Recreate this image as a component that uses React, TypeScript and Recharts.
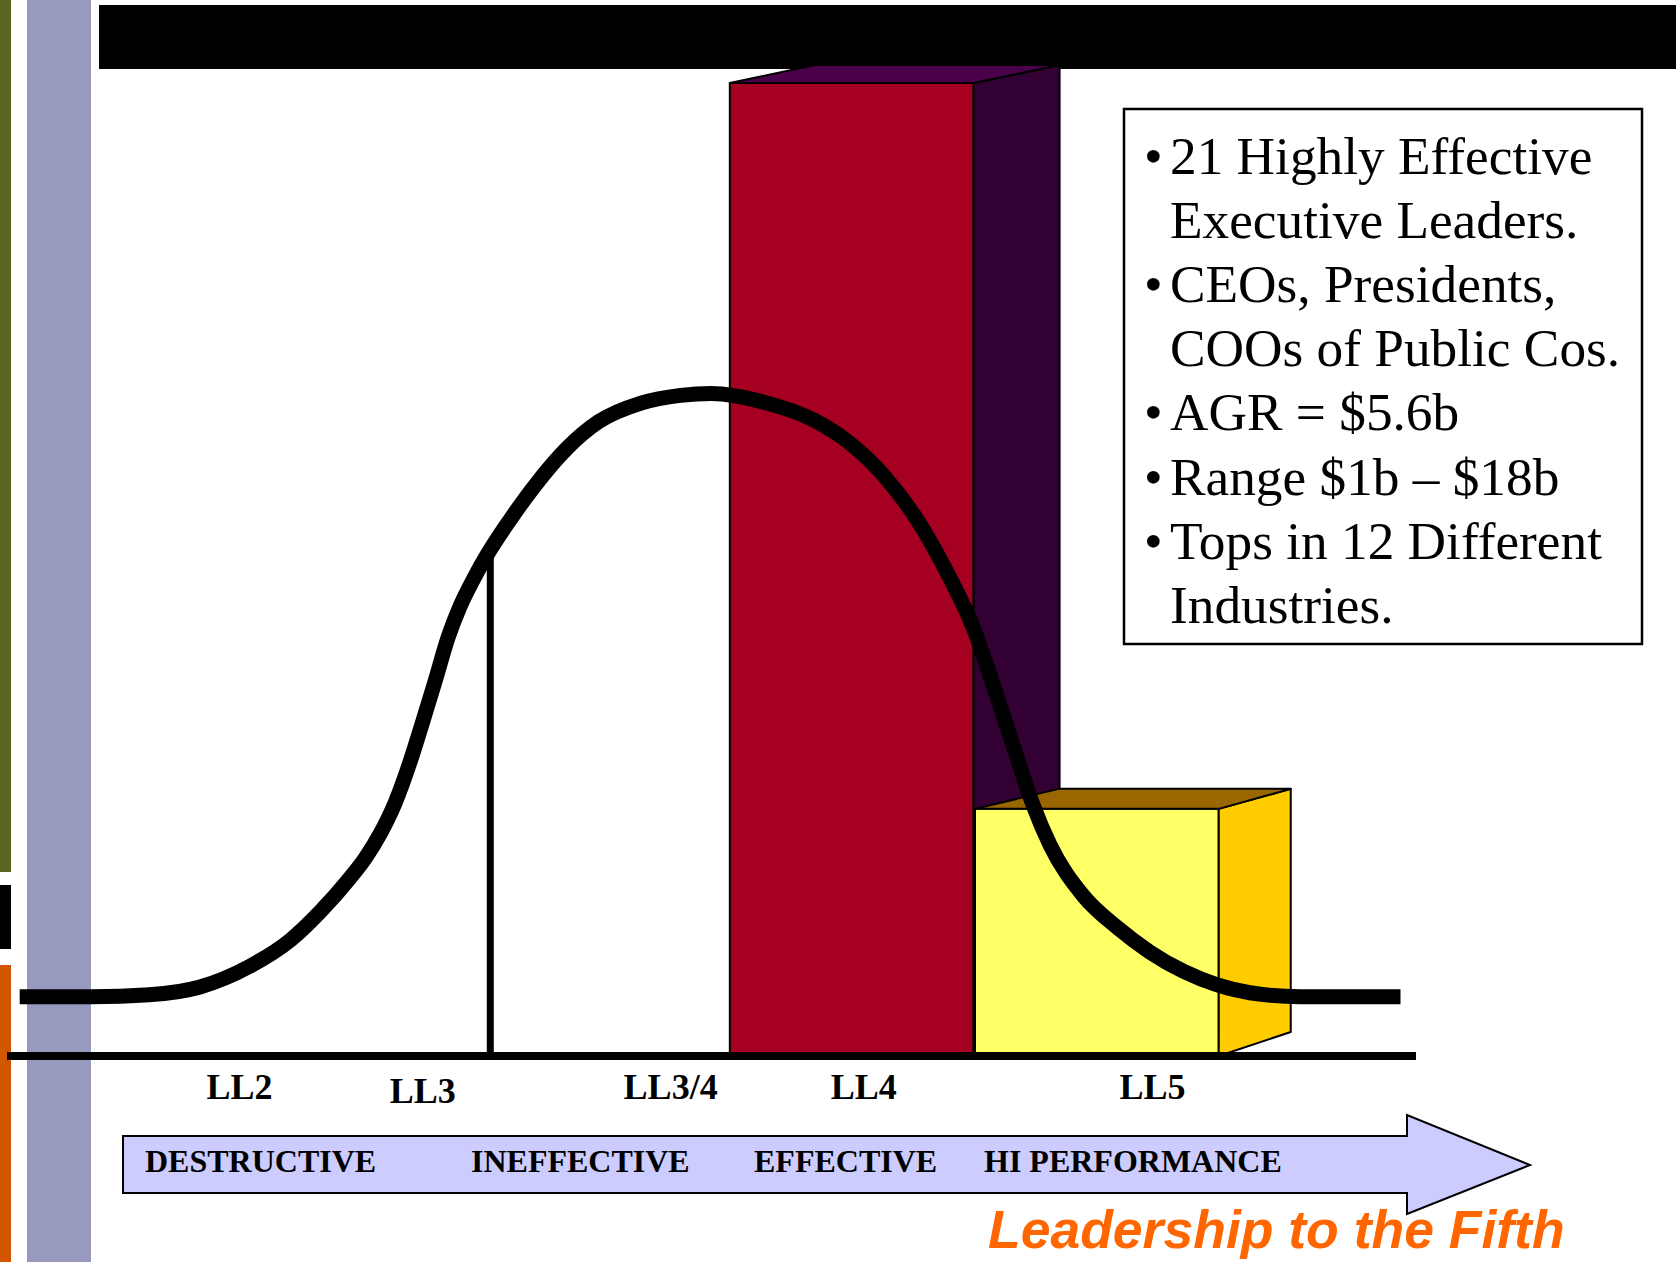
import React from "react";
import {
  ComposedChart,
  Line,
  ReferenceArea,
  ReferenceLine,
  XAxis,
  YAxis,
} from "recharts";

// bell curve of leadership levels, sampled along the level scale (0-100)
const CURVE_X = [
  0.9, 6.0, 10.1, 13.7, 17.2, 20.1, 22.21, 24.34, 25.41, 26.47, 27.54, 28.6,
  29.45, 30.38, 31.3, 32.15, 33.14, 34.07, 35.7, 37.4, 39.7, 42.0, 45.0, 47.8,
  50.0, 53.7, 57.2, 59.8, 62.2, 64.6, 66.93, 68.56, 69.98, 71.68, 72.82, 74.02,
  76.37, 78.8, 81.1, 83.5, 85.9, 88.2, 91.8, 98.9,
];
const CURVE_Y = [
  6.1, 6.1, 6.3, 7.1, 9.2, 11.9, 14.8, 18.3, 20.3, 22.8, 26.0, 30.2, 34.1,
  38.5, 43.0, 46.2, 49.1, 51.5, 55.1, 58.5, 62.4, 65.2, 67.1, 67.9, 68.1, 67.2,
  65.4, 63.0, 59.7, 55.1, 49.1, 44.1, 38.2, 30.7, 25.8, 21.7, 16.5, 13.2, 10.7,
  8.7, 7.3, 6.5, 6.1, 6.1,
];

// LL4 and LL5 columns
const BAR_FROM = [51.3, 68.7];
const BAR_TO = [68.6, 86.0];
const BAR_VALUES = [100, 25.4];

// LL3 cut-off marker
const DIVIDER_X = 34.3;
const DIVIDER_TOP = 52;

const TICK_POSITIONS = [16.5, 29.5, 47.1, 60.8, 81.3];
const TICK_LABELS = ["LL2", "LL3", "LL3/4", "LL4", "LL5"];

const STAGES = ["DESTRUCTIVE", "INEFFECTIVE", "EFFECTIVE", "HI PERFORMANCE"];

const INFO_ITEMS = [
  ["21 Highly Effective", "Executive Leaders."],
  ["CEOs, Presidents,", "COOs of Public Cos."],
  ["AGR = $5.6b"],
  ["Range $1b \u2013 $18b"],
  ["Tops in 12 Different", "Industries."],
];

// layout
const W = 1676;
const H = 1262;
const STAGE_LEFT = [145, 471, 754, 984];
const TICK_DY: Record<string, number> = { LL3: 4 };
const SERIF = "'Liberation Serif', 'Times New Roman', serif";
const SANS = "'Liberation Sans', Arial, sans-serif";

const curveData = CURVE_X.map((x, i) => ({ x, y: CURVE_Y[i] }));

type BoxStyle = {
  front: string;
  side: string;
  top: string;
  dxL: number;
  dxR: number;
  dyT: number;
  dyB: number;
};

const BOX_STYLES: BoxStyle[] = [
  { front: "#A50021", side: "#330033", top: "#4B004B", dxL: 85, dxR: 86, dyT: -18, dyB: -18 },
  { front: "#FFFF66", side: "#FFCC00", top: "#996600", dxL: 84, dxR: 72, dyT: -20, dyB: -24 },
];

// draws a ReferenceArea as an extruded box (front, right side, top)
const box3d = (s: BoxStyle) => (props: any) => {
  const { x, y, width, height } = props;
  const r = x + width;
  const b = y + height;
  const line = { stroke: "#000", strokeWidth: 2, strokeLinejoin: "round" as const };
  return (
    <g>
      <rect x={x} y={y} width={width} height={height} fill={s.front} {...line} />
      <polygon
        points={`${r},${y} ${r + s.dxR},${y + s.dyT} ${r + s.dxR},${b + s.dyB} ${r},${b}`}
        fill={s.side}
        {...line}
      />
      <polygon
        points={`${x},${y} ${x + s.dxL},${y + s.dyT} ${r + s.dxR},${y + s.dyT} ${r},${y}`}
        fill={s.top}
        {...line}
      />
    </g>
  );
};

const LevelTick = (props: any) => {
  const { x, y, payload } = props;
  const label = TICK_LABELS[TICK_POSITIONS.indexOf(payload.value)] ?? "";
  return (
    <text
      x={x}
      y={y + 35 + (TICK_DY[label] ?? 0)}
      textAnchor="middle"
      fontFamily={SERIF}
      fontWeight="bold"
      fontSize={36}
      fill="#000"
    >
      {label}
    </text>
  );
};

export default function App() {
  let line = 0;
  return (
    <div
      style={{
        position: "absolute",
        left: 0,
        top: 0,
        width: W,
        height: H,
        background: "#fff",
        overflow: "hidden",
      }}
    >
      {/* slide frame */}
      <svg width={W} height={H} style={{ position: "absolute", left: 0, top: 0 }}>
        <rect x={0} y={0} width={11} height={872} fill="#5C6520" />
        <rect x={0} y={885} width={11} height={64} fill="#000" />
        <rect x={0} y={965} width={11} height={H - 965} fill="#D35500" />
        <rect x={27} y={0} width={64} height={H} fill="#9799BF" />
        <rect x={99} y={5} width={W - 99} height={64} fill="#000" />
      </svg>

      <div style={{ position: "absolute", left: 0, top: 0 }}>
        <ComposedChart
          width={W}
          height={H}
          data={curveData}
          margin={{ top: 83, right: 260, bottom: 146, left: 7 }}
        >
          <XAxis
            type="number"
            dataKey="x"
            domain={[0, 100]}
            ticks={TICK_POSITIONS}
            interval={0}
            tick={<LevelTick />}
            tickLine={false}
            axisLine={{ stroke: "#000", strokeWidth: 8 }}
            height={60}
          />
          <YAxis hide type="number" domain={[0, 100]} />
          {BAR_VALUES.map((v, i) => (
            <ReferenceArea
              key={`box-${i}`}
              x1={BAR_FROM[i]}
              x2={BAR_TO[i]}
              y1={0}
              y2={v}
              shape={box3d(BOX_STYLES[i])}
            />
          ))}
          <ReferenceLine
            segment={[
              { x: DIVIDER_X, y: 0 },
              { x: DIVIDER_X, y: DIVIDER_TOP },
            ]}
            stroke="#000"
            strokeWidth={7}
          />
          <Line
            dataKey="y"
            type="monotone"
            stroke="#000"
            strokeWidth={15}
            dot={false}
            activeDot={false}
            isAnimationActive={false}
          />
        </ComposedChart>
      </div>

      {/* stage arrow, info box and tagline */}
      <svg width={W} height={H} style={{ position: "absolute", left: 0, top: 0 }}>
        <polygon
          points="123,1136 1407,1136 1407,1115 1530,1165 1407,1214 1407,1193 123,1193"
          fill="#CCCCFF"
          stroke="#000"
          strokeWidth={2}
        />
        {STAGES.map((s, i) => (
          <text
            key={s}
            x={STAGE_LEFT[i]}
            y={1172}
            fontFamily={SERIF}
            fontWeight="bold"
            fontSize={32}
            fill="#000"
          >
            {s}
          </text>
        ))}

        <rect x={1124} y={109} width={518} height={535} fill="#fff" stroke="#000" strokeWidth={2.5} />
        {INFO_ITEMS.map((item, i) =>
          item.map((t, j) => {
            const by = 174 + 64.1 * line++;
            return (
              <g key={`info-${i}-${j}`}>
                {j === 0 && (
                  <text x={1144} y={by} fontFamily={SERIF} fontSize={53.3} fill="#000">
                    {"\u2022"}
                  </text>
                )}
                <text x={1170} y={by} fontFamily={SERIF} fontSize={53.3} fill="#000">
                  {t}
                </text>
              </g>
            );
          })
        )}

        <text
          x={988}
          y={1248}
          fontFamily={SANS}
          fontWeight="bold"
          fontStyle="italic"
          fontSize={53.5}
          fill="#FF6600"
        >
          Leadership to the Fifth
        </text>
      </svg>
    </div>
  );
}
